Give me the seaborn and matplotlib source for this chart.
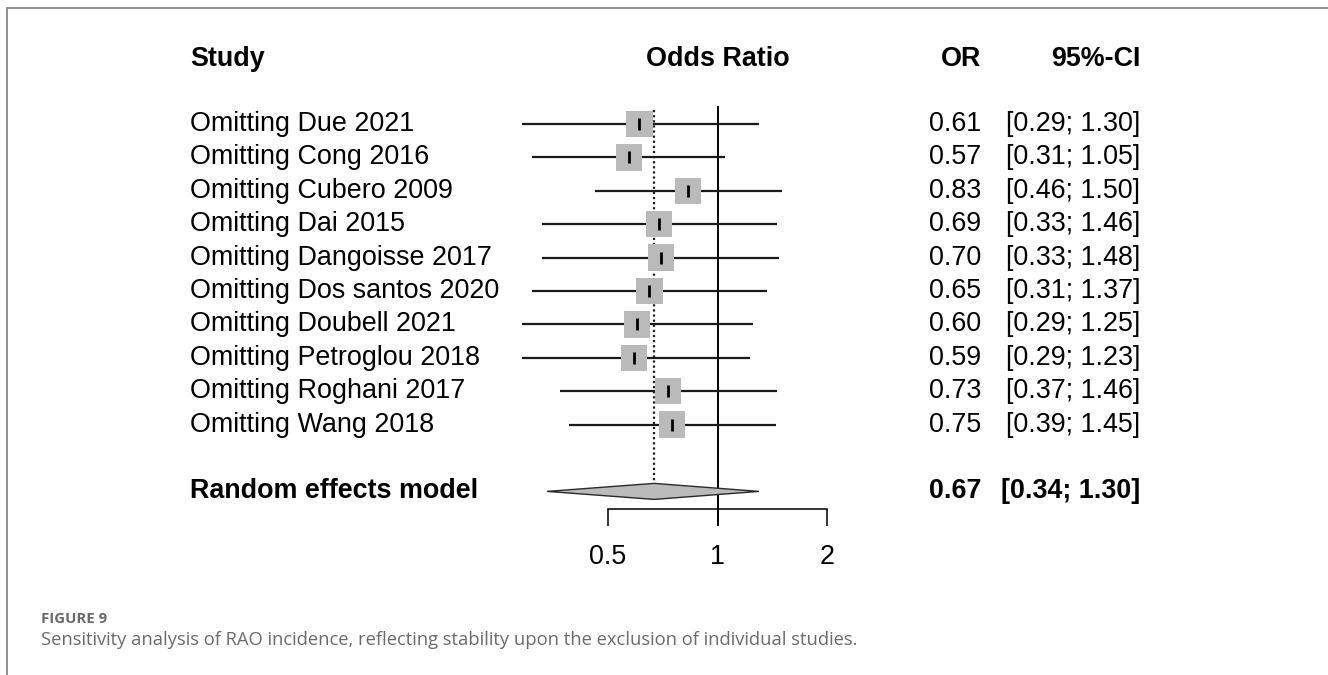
import numpy as np
import pandas as pd
import matplotlib
matplotlib.use("Agg")
import matplotlib.pyplot as plt
from matplotlib.lines import Line2D
from matplotlib.ticker import NullLocator, FixedLocator, FixedFormatter
import seaborn as sns

# ---------------- data ----------------
studies = ["Omitting Due 2021", "Omitting Cong 2016", "Omitting Cubero 2009",
           "Omitting Dai 2015", "Omitting Dangoisse 2017", "Omitting Dos santos 2020",
           "Omitting Doubell 2021", "Omitting Petroglou 2018", "Omitting Roghani 2017",
           "Omitting Wang 2018"]
odds_ratio = [0.61, 0.57, 0.83, 0.69, 0.70, 0.65, 0.60, 0.59, 0.73, 0.75]
ci_lower = [0.29, 0.31, 0.46, 0.33, 0.33, 0.31, 0.29, 0.29, 0.37, 0.39]
ci_upper = [1.30, 1.05, 1.50, 1.46, 1.48, 1.37, 1.25, 1.23, 1.46, 1.45]

pooled_label = "Random effects model"
pooled_or = 0.67
pooled_lower = 0.34
pooled_upper = 1.30

tick_values = [0.5, 1, 2]
tick_labels = ["0.5", "1", "2"]

header_study = "Study"
header_effect = "Odds Ratio"
header_or = "OR"
header_ci = "95%-CI"

caption_label = "FIGURE 9"
caption_text = ("Sensitivity analysis of RAO incidence, reflecting stability upon "
                "the exclusion of individual studies.")

# ---------------- style ----------------
sns.set_theme(style="white")
plt.rcParams["font.family"] = ["Liberation Sans", "DejaVu Sans"]

W, H, DPI = 1328, 675, 100
fig = plt.figure(figsize=(W / DPI, H / DPI), dpi=DPI)
fig.patch.set_facecolor("white")
ax = fig.add_axes([0, 0, 1, 1])
ax.set_facecolor("white")

# pixel mapping helpers (layout only)
X_ONE_PX = 717.5      # pixel of OR = 1
PX_PER_DOUBLING = 109.5
ROW0_PX = 124.0
ROW_PX = 33.4

def px_to_row(py):
    return (py - ROW0_PX) / ROW_PX

ax.set_xscale("log", base=2)
ax.set_xlim(2 ** (-X_ONE_PX / PX_PER_DOUBLING), 2 ** ((W - X_ONE_PX) / PX_PER_DOUBLING))
ax.set_ylim(px_to_row(H), px_to_row(0))

df = pd.DataFrame({
    "study": studies,
    "or": odds_ratio,
    "lower": ci_lower,
    "upper": ci_upper,
})
df["row"] = np.arange(len(df))
pooled_row = len(df) + 1

FS = 19.4
box_color = "#bababa"

# CI lines
ax.hlines(df["row"], df["lower"], df["upper"], color="#1a1a1a", lw=1.6, zorder=2)
# squares
sns.scatterplot(data=df, x="or", y="row", marker="s", s=360, color=box_color,
                edgecolor="none", linewidth=0, zorder=3, ax=ax, legend=False)
# point estimate ticks
sns.scatterplot(data=df, x="or", y="row", marker="|", s=70, color="black",
                linewidth=2.0, zorder=4, ax=ax, legend=False)

# diamond for pooled estimate
half_h = 0.24
ax.fill([pooled_lower, pooled_or, pooled_upper, pooled_or],
        [pooled_row, pooled_row - half_h, pooled_row, pooled_row + half_h],
        facecolor=box_color, edgecolor="#2a2a2a", lw=1.0, zorder=3)

# reference lines
axis_row = px_to_row(509)
tick_bottom_row = px_to_row(526)
ax.vlines(1, px_to_row(106), tick_bottom_row, color="black", lw=1.4, zorder=1)
ax.vlines(pooled_or, px_to_row(110), px_to_row(484), color="#1e1e1e", lw=1.6,
          linestyles=(0, (1, 1.3)), zorder=1)

# x axis drawn with the bottom spine
for s in ["top", "right", "left"]:
    ax.spines[s].set_visible(False)
ax.spines["bottom"].set_position(("data", axis_row))
ax.spines["bottom"].set_bounds(tick_values[0], tick_values[-1])
ax.spines["bottom"].set_color("black")
ax.spines["bottom"].set_linewidth(1.1)
ax.xaxis.set_major_locator(FixedLocator(tick_values))
ax.xaxis.set_major_formatter(FixedFormatter(tick_labels))
ax.xaxis.set_minor_locator(NullLocator())
ax.tick_params(axis="x", which="major", direction="out", length=12.2, width=1.1,
               color="black", labelsize=FS, labelcolor="black", pad=13,
               bottom=True)
ax.set_yticks([])
ax.set_xlabel("")
ax.set_ylabel("")

# ---------------- text columns ----------------
tr = ax.get_yaxis_transform()   # x in axes fraction, y in data rows
X_STUDY = 190 / W
X_OR = 981 / W
X_CI = 1140 / W
header_row = px_to_row(59)

ax.text(X_STUDY, header_row, header_study, transform=tr, ha="left", va="center",
        fontsize=FS, fontweight="bold", color="black")
ax.text(1, header_row, header_effect, ha="center", va="center",
        fontsize=FS, fontweight="bold", color="black")
ax.text(X_OR, header_row, header_or, transform=tr, ha="right", va="center",
        fontsize=FS, fontweight="bold", color="black")
ax.text(X_CI, header_row, header_ci, transform=tr, ha="right", va="center",
        fontsize=FS, fontweight="bold", color="black")

for _, r in df.iterrows():
    ax.text(X_STUDY, r["row"], r["study"], transform=tr, ha="left", va="center",
            fontsize=FS, color="black")
    ax.text(X_OR, r["row"], f"{r['or']:.2f}", transform=tr, ha="right", va="center",
            fontsize=FS, color="black")
    ax.text(X_CI, r["row"], f"[{r['lower']:.2f}; {r['upper']:.2f}]", transform=tr,
            ha="right", va="center", fontsize=FS, color="black")

ax.text(X_STUDY, pooled_row, pooled_label, transform=tr, ha="left", va="center",
        fontsize=FS, fontweight="bold", color="black")
ax.text(X_OR, pooled_row, f"{pooled_or:.2f}", transform=tr, ha="right", va="center",
        fontsize=FS, fontweight="bold", color="black")
ax.text(X_CI, pooled_row, f"[{pooled_lower:.2f}; {pooled_upper:.2f}]", transform=tr,
        ha="right", va="center", fontsize=FS, fontweight="bold", color="black")

# ---------------- page frame & caption ----------------
frame_color = "#8f8f8f"
fig.add_artist(Line2D([7 / W, 1.0], [1 - 8 / H, 1 - 8 / H], transform=fig.transFigure,
                      color=frame_color, lw=1.4))
fig.add_artist(Line2D([7 / W, 7 / W], [1 - 8 / H, 0.0], transform=fig.transFigure,
                      color=frame_color, lw=1.4))

cap_font = ["Open Sans", "DejaVu Sans"]
fig.text(41 / W, 1 - 619 / H, caption_label, family=cap_font, fontweight="bold",
         fontsize=10.8, color="#6b6b6b", ha="left", va="center")
fig.text(41 / W, 1 - 640 / H, caption_text, family=cap_font, fontsize=13.2,
         color="#6b6b6b", ha="left", va="center")

fig.savefig("out.png", dpi=DPI, facecolor="white")
